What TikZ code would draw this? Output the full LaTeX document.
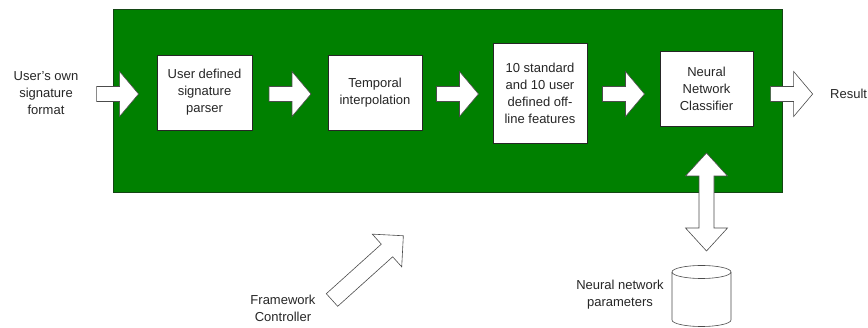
\documentclass[tikz,border=0pt]{standalone}
\usepackage{fontspec}
\setmainfont{Liberation Sans}
\usetikzlibrary{calc}
\definecolor{boxgreen}{RGB}{0,128,0}
\definecolor{frameline}{RGB}{20,70,20}
\begin{document}
\begin{tikzpicture}[x=1pt,y=-1pt,
  txt/.style={font=\fontsize{13}{17}\selectfont, align=center, inner sep=0pt, text=black!85},
  box/.style={draw=black!85, fill=white, line width=0.6pt, txt},
  arr/.style={draw=black!70, fill=white, line width=0.6pt, line join=miter},
  barrow/.pic={\draw[arr] (-21,-7.5) -- (2,-7.5) -- (2,-22.5) -- (21,0) -- (2,22.5) -- (2,7.5) -- (-21,7.5) -- cycle;},
  vdarrow/.pic={\draw[arr] (0,-49) -- (21,-26) -- (7.5,-26) -- (7.5,26) -- (21,26) -- (0,49) -- (-21,26) -- (-7.5,26) -- (-7.5,-26) -- (-21,-26) -- cycle;}
]
\useasboundingbox (0,0) rectangle (868,328);
% frame
\node[draw=frameline, fill=boxgreen, line width=0.8pt, minimum width=669pt, minimum height=183pt, anchor=north west, inner sep=0pt] (frame) at (113,9) {};
% boxes
\node[box, minimum width=95pt, minimum height=75pt] (b1) at (204.5,92.5) {User defined\\signature\\parser};
\node[box, minimum width=94pt, minimum height=75pt] (b2) at (375,92.5) {Temporal\\interpolation};
\node[box, minimum width=94pt, minimum height=100pt] (b3) at (540,93) {10 standard\\and 10 user\\defined off-\\line features};
\node[box, minimum width=93pt, minimum height=75pt] (b4) at (706.5,88.5) {Neural\\Network\\Classifier};
% texts
\node[txt] (in) at (46,93) {User's own\\signature\\format};
\node[txt, anchor=west] (res) at (830,94) {Result};
\node[txt] (fc) at (283,308) {Framework\\Controller};
\node[txt] (nnp) at (620,295) {Neural network\\parameters};
% cylinder
\node[minimum width=59pt, minimum height=62pt, inner sep=0pt] (cyl) at (701.5,296) {};
\draw[arr] (672,272) -- (672,320) arc[start angle=180, end angle=360, x radius=29.5pt, y radius=6.5pt]
  -- (731,272) arc[start angle=0, end angle=180, x radius=29.5pt, y radius=6.5pt] -- cycle;
\draw[arr, fill=none] (672,272) arc[start angle=180, end angle=360, x radius=29.5pt, y radius=6.5pt];
% horizontal block arrows
\coordinate (ly) at (0,94);
\coordinate (m0) at ($(in.east)!.5!(b1.west)$);
\coordinate (m1) at ($(b1.east)!.5!(b2.west)$);
\coordinate (m2) at ($(b2.east)!.5!(b3.west)$);
\coordinate (m3) at ($(b3.east)!.5!(b4.west)$);
\coordinate (m4) at ($(b4.east)!.5!(res.west)$);
\pic at (m0 |- ly) {barrow};
\pic at (m1 |- ly) {barrow};
\pic at (m2 |- ly) {barrow};
\pic at (m3 |- ly) {barrow};
\pic at (m4 |- ly) {barrow};
% vertical double arrow between classifier and parameters
\coordinate (vd) at (b4 |- 0,202);
\pic at (vd) {vdarrow};
% framework controller arrow
\coordinate (fca) at (332,300);
\begin{scope}[shift={(fca)}, rotate=42]
  \draw[arr] (0,-8.5) -- (74,-8.5) -- (74,-22) -- (96,0) -- (74,22) -- (74,8.5) -- (0,8.5) -- cycle;
\end{scope}
\end{tikzpicture}
\end{document}
